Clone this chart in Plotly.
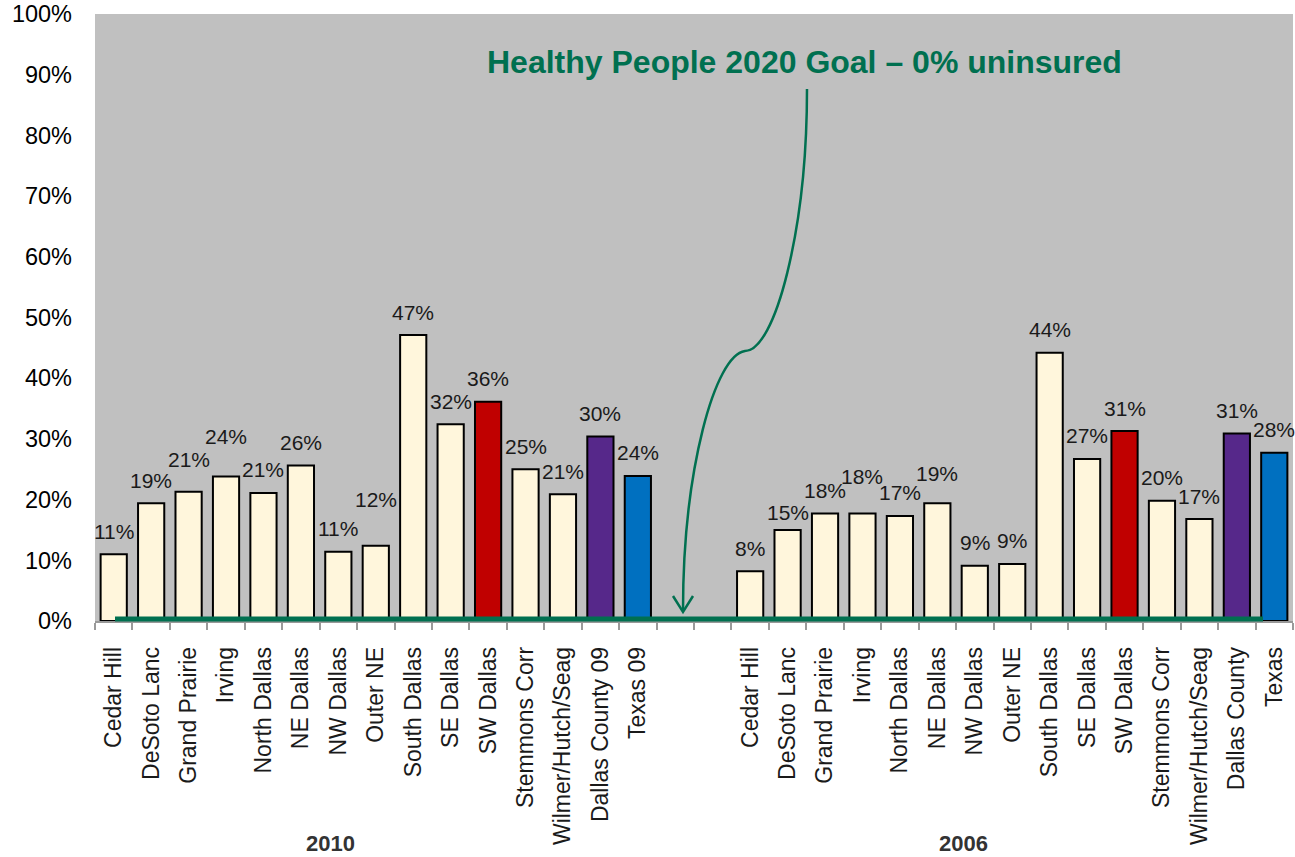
import plotly.graph_objects as go

# ---------------- data ----------------
areas_2010 = ["Cedar Hill", "DeSoto Lanc", "Grand Prairie", "Irving", "North Dallas",
              "NE Dallas", "NW Dallas", "Outer NE", "South Dallas", "SE Dallas",
              "SW Dallas", "Stemmons Corr", "Wilmer/Hutch/Seag", "Dallas County 09", "Texas 09"]
uninsured_2010 = [11.0, 19.4, 21.3, 23.8, 21.1, 25.6, 11.4, 12.4, 47.1, 32.4,
                  36.1, 25.0, 20.9, 30.4, 23.9]

areas_2006 = ["Cedar Hill", "DeSoto Lanc", "Grand Prairie", "Irving", "North Dallas",
              "NE Dallas", "NW Dallas", "Outer NE", "South Dallas", "SE Dallas",
              "SW Dallas", "Stemmons Corr", "Wilmer/Hutch/Seag", "Dallas County", "Texas"]
uninsured_2006 = [8.2, 15.0, 17.7, 17.7, 17.3, 19.4, 9.1, 9.4, 44.2, 26.7,
                  31.3, 19.8, 16.8, 30.9, 27.7]

year_labels = ["2010", "2006"]
y_ticks = [0, 10, 20, 30, 40, 50, 60, 70, 80, 90, 100]
goal_text = "Healthy People 2020 Goal – 0% uninsured"

# ---------------- layout helpers (styles / positions) ----------------
GAP = 2  # empty slots between the two groups
x_2010 = list(range(len(areas_2010)))
x_2006 = [len(areas_2010) + GAP + i for i in range(len(areas_2006))]
n_slots = len(areas_2010) + GAP + len(areas_2006)

GREEN = "#007050"
CREAM = "#FFF6DC"


def bar_color(name):
    if name.startswith("SW Dallas"):
        return "#C00000"
    if name.startswith("Dallas County"):
        return "#56288A"
    if name.startswith("Texas"):
        return "#0070C0"
    return CREAM


# extra vertical offsets (px) for a few data labels, as placed in the original
label_extra_2010 = {"Grand Prairie": 9, "Irving": 17, "Outer NE": 23}
label_extra_2006 = {"DeSoto Lanc": -6, "Irving": 14, "NE Dallas": 7}

W, H = 1295, 857
# plot area in screen pixels
PL, PR, PT, PB = 95, 1293, 14, 621


def px(x):
    return (x - PL) / (PR - PL)


def py(y):
    return (PB - y) / (PB - PT)


fig = go.Figure()

all_x = x_2010 + x_2006
all_y = uninsured_2010 + uninsured_2006
all_names = areas_2010 + areas_2006

fig.add_trace(go.Bar(
    x=all_x, y=all_y,
    width=0.7,
    marker=dict(color=[bar_color(n) for n in all_names],
                line=dict(color="#000000", width=2)),
    hoverinfo="skip",
    showlegend=False,
))

annotations = []
for xs, ys, names, extra in [(x_2010, uninsured_2010, areas_2010, label_extra_2010),
                             (x_2006, uninsured_2006, areas_2006, label_extra_2006)]:
    for xv, yv, nm in zip(xs, ys, names):
        annotations.append(dict(
            x=xv, y=yv, xref="x", yref="y",
            text=f"{int(round(yv))}%", showarrow=False,
            yshift=23 + extra.get(nm, 0), yanchor="middle", xanchor="center",
            font=dict(family="Liberation Sans, Arial", size=21, color="#1a1a1a"),
        ))

# goal title
annotations.append(dict(
    x=px(804), y=py(62), xref="paper", yref="paper",
    text=f"<b>{goal_text}</b>", showarrow=False,
    xanchor="center", yanchor="middle",
    font=dict(family="Liberation Sans, Arial", size=32, color=GREEN),
))

# year group labels
for lbl, xc in zip(year_labels, [330, 963]):
    annotations.append(dict(
        x=px(xc), y=py(843), xref="paper", yref="paper",
        text=f"<b>{lbl}</b>", showarrow=False,
        xanchor="center", yanchor="middle",
        font=dict(family="Liberation Sans, Arial", size=22, color="#333333"),
    ))


def P(x, y):
    return f"{px(x):.5f},{py(y):.5f}"


arrow_path = ("M " + P(807, 89) +
              " C " + P(807, 230) + " " + P(775, 351) + " " + P(745, 351) +
              " C " + P(715, 355) + " " + P(683, 470) + " " + P(683, 611))
head_path = "M " + P(673, 596) + " L " + P(683, 612) + " L " + P(693, 596)

shapes = [
    dict(type="line", xref="paper", yref="paper",
         x0=px(115), x1=px(1263), y0=py(619), y1=py(619),
         line=dict(color=GREEN, width=5)),
    dict(type="path", xref="paper", yref="paper", path=arrow_path,
         line=dict(color=GREEN, width=2.5)),
    dict(type="path", xref="paper", yref="paper", path=head_path,
         line=dict(color=GREEN, width=2.5)),
]

fig.update_layout(
    width=W, height=H,
    margin=dict(l=PL, r=W - PR, t=PT, b=H - PB, pad=0),
    plot_bgcolor="#C0C0C0", paper_bgcolor="#FFFFFF",
    bargap=0.3,
    annotations=annotations,
    shapes=shapes,
    font=dict(family="Liberation Sans, Arial", color="#000000"),
    xaxis=dict(
        range=[-0.5, n_slots - 0.5],
        tickmode="array", tickvals=all_x, ticktext=all_names,
        tickangle=-90, ticks="", showgrid=False, zeroline=False,
        showline=True, linecolor="#999999", linewidth=1.5,
        tickfont=dict(family="Liberation Sans, Arial", size=23, color="#1a1a1a"),
        ticklabelstandoff=15,
        minor=dict(ticks="outside", tick0=-0.5, dtick=1, ticklen=7,
                   tickcolor="#9A9A9A", tickwidth=1.5, showgrid=False),
        fixedrange=True,
    ),
    yaxis=dict(
        range=[0, 100],
        tickmode="array", tickvals=y_ticks, ticktext=[f"{v}%" for v in y_ticks],
        ticks="", showgrid=False, zeroline=False, showline=False,
        tickfont=dict(family="Liberation Sans, Arial", size=23.5, color="#000000"),
        ticklabelstandoff=22, ticklabeloverflow="allow",
        fixedrange=True,
    ),
)

fig.write_html(
    "out.html",
    config={"displayModeBar": False},
    post_script="document.body.style.margin='0';document.body.style.overflow='hidden';",
)
